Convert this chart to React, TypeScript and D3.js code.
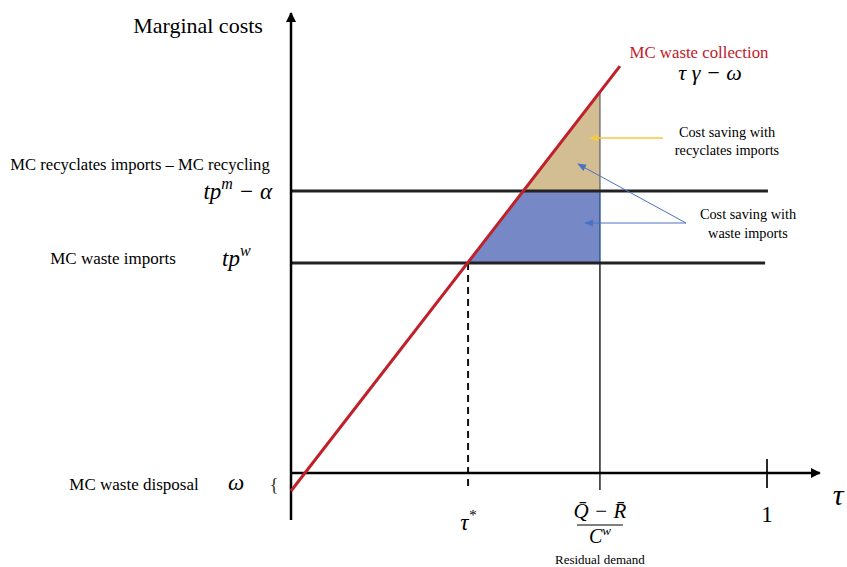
import React from 'react';
import * as d3 from 'd3';

const width = 847;
const height = 567;

// cost = omega + gamma * tau
const omega = -0.45;
const gamma = 15.37;
const tauStar = 0.372;
const tauResidual = 0.649;
const tauLineEnd = 0.691;
const tpW = 5.25;
const tpM = 7.05;
const tauTickOne = 1;
const tauAxis = [0, 1.111];
const costAxis = [-1.175, 11.5];

const red = '#c0202a';
const tan = '#d3bd93';
const blue = '#7689c6';
const darkLine = '#222';
const serif = '"Liberation Serif", "DejaVu Serif", serif';

const x = d3.scaleLinear().domain([0, 1]).range([291, 767]);
const y = d3.scaleLinear().domain([0, 10]).range([473, 73]);

const line = d3.line<[number, number]>()
  .x(d => x(d[0]))
  .y(d => y(d[1]));

const tauAtM = (tpM - omega) / gamma;
const costAtResidual = omega + gamma * tauResidual;

const tanArea: [number, number][] = [
  [tauAtM, tpM],
  [tauResidual, tpM],
  [tauResidual, costAtResidual],
];

const blueArea: [number, number][] = [
  [tauStar, tpW],
  [tauAtM, tpM],
  [tauResidual, tpM],
  [tauResidual, tpW],
];

const App: React.FC = () => {
  return (
    <svg width={width} height={height} style={{ position: 'absolute', left: 0, top: 0 }}
      fontFamily={serif}>
      <defs>
        <marker id="ax" viewBox="0 0 10 10" refX="9" refY="5" markerWidth="4" markerHeight="4"
          orient="auto" markerUnits="strokeWidth">
          <path d="M0,0 L10,5 L0,10 z" fill="#000" />
        </marker>
        <marker id="ay" viewBox="0 0 10 10" refX="9" refY="5" markerWidth="9" markerHeight="9"
          orient="auto" markerUnits="userSpaceOnUse">
          <path d="M0,1 L10,5 L0,9 z" fill="#f5c842" />
        </marker>
        <marker id="ab" viewBox="0 0 10 10" refX="9" refY="5" markerWidth="9" markerHeight="9"
          orient="auto" markerUnits="userSpaceOnUse">
          <path d="M0,1 L10,5 L0,9 z" fill="#4a72c4" />
        </marker>
      </defs>

      {/* shaded regions */}
      <path d={line(tanArea) + 'Z'} fill={tan} />
      <path d={line(blueArea) + 'Z'} fill={blue} />

      {/* residual demand vertical */}
      <line x1={x(tauResidual)} x2={x(tauResidual)} y1={y(costAtResidual)} y2={y(tpM)}
        stroke="#777" strokeWidth={1.5} />
      <line x1={x(tauResidual)} x2={x(tauResidual)} y1={y(tpM)} y2={y(tpW)}
        stroke="#2f5597" strokeWidth={1.5} />
      <line x1={x(tauResidual)} x2={x(tauResidual)} y1={y(tpW)} y2={y(0) + 17}
        stroke="#222" strokeWidth={1.5} />

      {/* tau star dashed */}
      <line x1={x(tauStar)} x2={x(tauStar)} y1={y(tpW)} y2={y(0) + 17}
        stroke="#111" strokeWidth={2} strokeDasharray="7,5" />

      {/* tick at 1 */}
      <line x1={x(tauTickOne)} x2={x(tauTickOne)} y1={y(0) - 14} y2={y(0) + 15}
        stroke="#111" strokeWidth={1.8} />

      {/* horizontal price levels */}
      <line x1={x(0)} x2={x(1.002)} y1={y(tpM)} y2={y(tpM)} stroke={darkLine} strokeWidth={3} />
      <line x1={x(0)} x2={x(0.996)} y1={y(tpW)} y2={y(tpW)} stroke={darkLine} strokeWidth={3} />

      {/* axes */}
      <line x1={x(0)} x2={x(tauAxis[1])} y1={y(0)} y2={y(0)} stroke="#000" strokeWidth={2.5}
        markerEnd="url(#ax)" />
      <line x1={x(0)} x2={x(0)} y1={y(costAxis[0])} y2={y(costAxis[1])} stroke="#000"
        strokeWidth={2.5} markerEnd="url(#ax)" />

      {/* MC waste collection */}
      <path d={line([[0, omega], [tauLineEnd, omega + gamma * tauLineEnd]]) || ''}
        stroke={red} strokeWidth={3} fill="none" />

      {/* annotation arrows */}
      <line x1={663} y1={138} x2={590} y2={138} stroke="#f5c842" strokeWidth={1.5}
        markerEnd="url(#ay)" />
      <line x1={686} y1={223} x2={578} y2={164} stroke="#4a72c4" strokeWidth={1}
        markerEnd="url(#ab)" />
      <line x1={686} y1={223} x2={585} y2={223} stroke="#4a72c4" strokeWidth={1}
        markerEnd="url(#ab)" />

      {/* texts */}
      <text x={198} y={33} fontSize={22} textAnchor="middle">Marginal costs</text>
      <text x={699} y={58} fontSize={16.8} fill={red} textAnchor="middle">MC waste collection</text>
      <text x={710} y={80} fontSize={22} fontStyle="italic" textAnchor="middle">
        τ γ  − ω
      </text>

      <text x={727} y={137} fontSize={14.3} textAnchor="middle">Cost saving with</text>
      <text x={727} y={155} fontSize={14.3} textAnchor="middle">recyclates imports</text>
      <text x={748} y={219} fontSize={14.3} textAnchor="middle">Cost saving with</text>
      <text x={748} y={238} fontSize={14.3} textAnchor="middle">waste imports</text>

      <text x={140} y={170} fontSize={16.6} textAnchor="middle">MC recyclates imports – MC recycling</text>
      <text x={272} y={199} fontSize={23} fontStyle="italic" textAnchor="end">
        tp<tspan dy={-10} fontSize={16}>m</tspan><tspan dy={10}>  − α</tspan>
      </text>
      <text x={113} y={264} fontSize={17} textAnchor="middle">MC waste imports</text>
      <text x={222} y={266} fontSize={23} fontStyle="italic">
        tp<tspan dy={-10} fontSize={16}>w</tspan>
      </text>

      <text x={134} y={490} fontSize={17} textAnchor="middle">MC waste disposal</text>
      <text x={236} y={490} fontSize={23} fontStyle="italic" textAnchor="middle">ω</text>
      <text x={274} y={491} fontSize={19} textAnchor="middle" fill="#333">{'{'}</text>

      <text x={x(tauStar)} y={530} fontSize={23} fontStyle="italic" textAnchor="middle">
        τ<tspan dy={-10} fontSize={15}>*</tspan>
      </text>
      <text x={x(tauResidual)} y={518} fontSize={21} fontStyle="italic" textAnchor="middle">
        Q̄ − R̄
      </text>
      <line x1={x(tauResidual) - 23} x2={x(tauResidual) + 23} y1={525} y2={525}
        stroke="#000" strokeWidth={1} />
      <text x={x(tauResidual)} y={543} fontSize={20} fontStyle="italic" textAnchor="middle">
        C<tspan dy={-8} fontSize={13}>w</tspan>
      </text>
      <text x={x(tauResidual)} y={564} fontSize={13} textAnchor="middle">Residual demand</text>
      <text x={x(tauTickOne)} y={522} fontSize={23} textAnchor="middle">1</text>
      <text x={838} y={505} fontSize={30} fontStyle="italic" textAnchor="middle">τ</text>
    </svg>
  );
};

export default App;
